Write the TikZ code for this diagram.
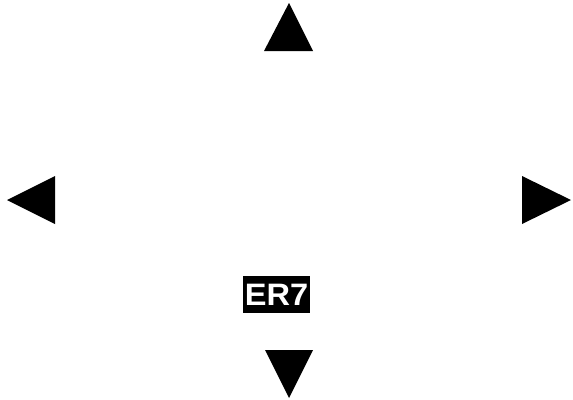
\documentclass[tikz,border=0pt]{standalone}
\usepackage{fontspec}
\setmainfont{Liberation Sans}
\begin{document}
\begin{tikzpicture}[x=1pt,y=-1pt,line join=round,line cap=round,
	tag/.style={fill=black,text=white,font=\bfseries\fontsize{31}{31}\selectfont,inner xsep=0pt,inner ysep=0pt,minimum width=67pt,minimum height=37pt}]
	\useasboundingbox (0,0) rectangle (573,399);
	\fill (289,3) -- (313,51) -- (264,51) -- cycle;
	\fill (7,200) -- (55,176) -- (55,224) -- cycle;
	\fill (571,200) -- (522,176) -- (522,224) -- cycle;
	\fill (289,398) -- (313,350) -- (265,350) -- cycle;
	\node[tag] (er7) at (276.5,294.5) {\scalebox{1.05}[1]{ER7}};
\end{tikzpicture}
\end{document}
